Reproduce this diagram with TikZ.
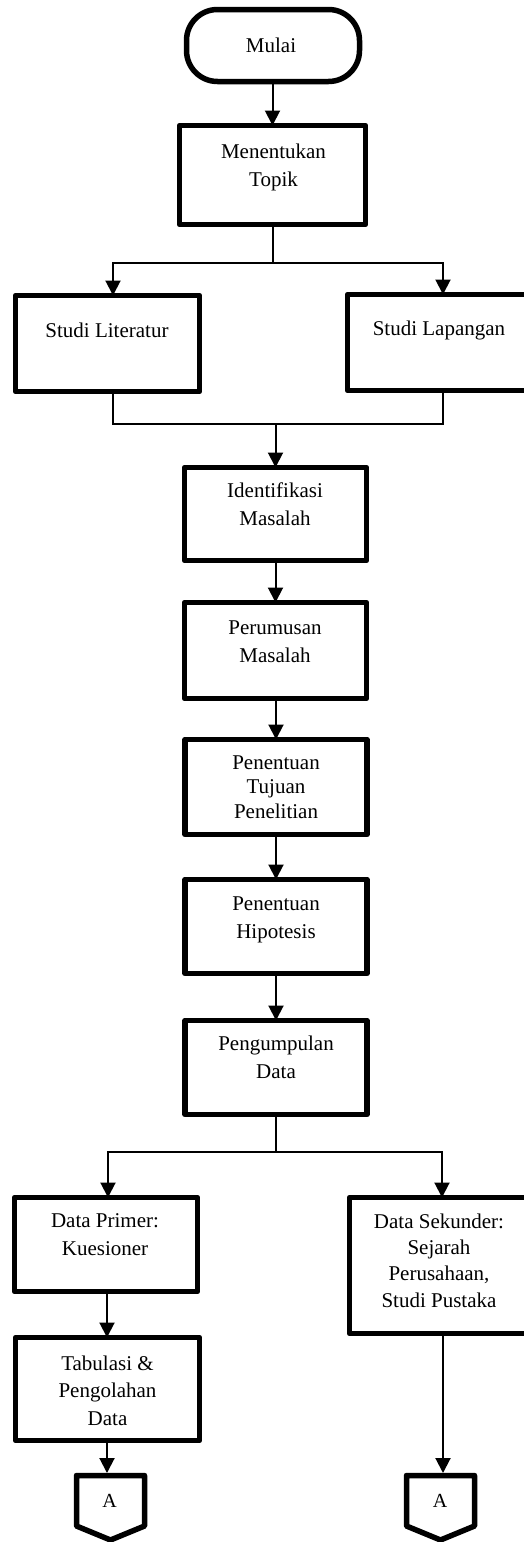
\documentclass[tikz,border=0pt]{standalone}
\usepackage{fontspec}
\setmainfont{Liberation Serif}
\usetikzlibrary{arrows.meta}
\begin{document}
\begin{tikzpicture}[x=1pt,y=-1pt,
  boxst/.style={draw, line width=5.5pt, line join=round, inner sep=0pt, outer sep=0pt},
  termst/.style={draw, line width=5.5pt, rounded corners=31pt, inner sep=0pt, outer sep=0pt},
  pent/.style={draw, line width=5.5pt, line join=round},
  lbl/.style={font=\fontsize{21}{27.5}\selectfont, align=center, anchor=base, inner sep=0pt},
  albl/.style={font=\fontsize{20}{22}\selectfont, anchor=base, inner sep=0pt},
  conn/.style={line width=2pt},
  arr/.style={conn, -{Triangle[length=15pt,width=15pt]}},
]
\useasboundingbox (0,0) rectangle (523,1542);

% boxes (centre, size = outer size minus line width)
\node[termst, minimum width=173pt, minimum height=72pt] (mulai) at (273,45.5) {};
\node[boxst, minimum width=186pt, minimum height=99pt] (topik) at (272.5,175) {};
\node[boxst, minimum width=184pt, minimum height=96pt] (lit) at (107.5,343.5) {};
\node[boxst, minimum width=191pt, minimum height=96pt] (lap) at (443,342.5) {};
\node[boxst, minimum width=182pt, minimum height=93pt] (ident) at (275.5,514) {};
\node[boxst, minimum width=182pt, minimum height=96pt] (rumus) at (275.5,650.5) {};
\node[boxst, minimum width=182pt, minimum height=95pt] (tujuan) at (276,787) {};
\node[boxst, minimum width=182pt, minimum height=94pt] (hipo) at (276,926.5) {};
\node[boxst, minimum width=182pt, minimum height=94pt] (kumpul) at (276,1067.5) {};
\node[boxst, minimum width=183pt, minimum height=94pt] (primer) at (106,1244.5) {};
\node[boxst, minimum width=189pt, minimum height=136pt] (sekunder) at (444,1265.5) {};
\node[boxst, minimum width=184pt, minimum height=103pt] (tab) at (107.5,1389) {};

% off-page connectors
\draw[pent] (76.5,1475.5) -- (144.5,1475.5) -- (144.5,1526) -- (110.5,1540) -- (76.5,1526) -- cycle;
\draw[pent] (406.5,1475.5) -- (474.5,1475.5) -- (474.5,1526) -- (440.5,1540) -- (406.5,1526) -- cycle;
\coordinate (a1top) at (107,1473);
\coordinate (a2top) at (443,1473);

% labels (anchor = baseline of the last line)
\node[lbl] (tmulai) at (271,52) {Mulai};
\node[lbl] (ttopik) at (273.5,186) {Menentukan\\Topik};
\node[lbl] (tlit) at (107,337) {Studi Literatur};
\node[lbl] (tlap) at (439,335) {Studi Lapangan};
\node[lbl] (tident) at (275,525) {Identifikasi\\Masalah};
\node[lbl] (trumus) at (275,662) {Perumusan\\Masalah};
\node[lbl, font=\fontsize{21}{24.5}\selectfont] (ttujuan) at (276,818) {Penentuan\\Tujuan\\Penelitian};
\node[lbl] (thipo) at (276,938) {Penentuan\\Hipotesis};
\node[lbl] (tkumpul) at (276,1078) {Pengumpulan\\Data};
\node[lbl] (tprimer) at (105,1255) {Data Primer:\\Kuesioner};
\node[lbl, font=\fontsize{21}{26.3}\selectfont] (tsekunder) at (439,1307) {Data Sekunder:\\Sejarah\\Perusahaan,\\Studi Pustaka};
\node[lbl] (ttab) at (107.5,1425) {Tabulasi \&\\Pengolahan\\Data};
\node[albl] (a1) at (109.5,1507) {A};
\node[albl] (a2) at (440,1507) {A};

% connectors
\coordinate (b1l) at (113,263);
\coordinate (b1r) at (443,263);
\coordinate (b2l) at (113,424);
\coordinate (b2r) at (443,424);
\coordinate (b2m) at (275.5,424);
\coordinate (b3l) at (108,1152);
\coordinate (b3r) at (442,1152);
\coordinate (cL) at (107,0);

\draw[arr] (mulai.south -| topik.north) -- (topik.north);
\draw[arr] (topik.south) |- (b1l) -- (b1l |- lit.north);
\draw[arr] (topik.south |- b1r) -- (b1r) -- (b1r |- lap.north);
\draw[conn] (b2l |- lit.south) -- (b2l) -- (b2r) -- (b2r |- lap.south);
\draw[arr] (b2m) -- (b2m |- ident.north);
\draw[arr] (ident.south) -- (rumus.north);
\draw[arr] (rumus.south -| tujuan.north) -- (tujuan.north);
\draw[arr] (tujuan.south) -- (hipo.north);
\draw[arr] (hipo.south) -- (kumpul.north);
\draw[arr] (kumpul.south) |- (b3l) -- (b3l |- primer.north);
\draw[arr] (kumpul.south |- b3r) -- (b3r) -- (b3r |- sekunder.north);
\draw[arr] (cL |- primer.south) -- (cL |- tab.north);
\draw[arr] (cL |- tab.south) -- (a1top);
\draw[arr] (a2top |- sekunder.south) -- (a2top);
\end{tikzpicture}
\end{document}
